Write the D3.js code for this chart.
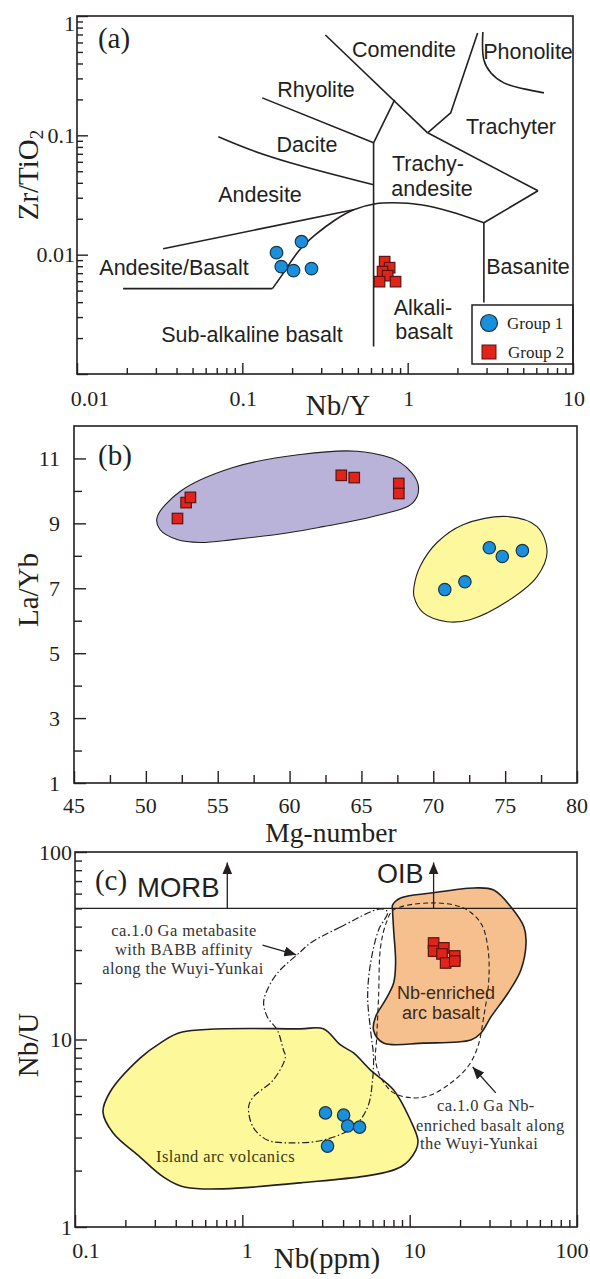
<!DOCTYPE html>
<html>
<head>
<meta charset="utf-8">
<script src="https://cdn.jsdelivr.net/npm/d3@7"></script>
<style>
  html, body { margin: 0; padding: 0; background: #fff; }
  svg { display: block; }
</style>
</head>
<body>
<svg id="chart" width="590" height="1279"></svg>
<script>
// ---------------- data ----------------
// (a) Nb/Y vs Zr/TiO2 discrimination diagram
const nbYTicks = [0.01, 0.1, 1, 10];
const nbYTickLabels = ["0.01", "0.1", "1", "10"];
const zrTiTicks = [1, 0.1, 0.01];
const zrTiTickLabels = ["1", "0.1", "0.01"];

const g1NbY  = [0.161, 0.172, 0.204, 0.228, 0.262];
const g1ZrTi = [0.0104, 0.00794, 0.00735, 0.01285, 0.00764];
const g2NbY  = [0.726, 0.778, 0.705, 0.757, 0.676, 0.845];
const g2ZrTi = [0.00874, 0.00778, 0.00721, 0.00667, 0.00594, 0.00594];

// field boundaries [Nb/Y, Zr/TiO2]
const lineSubAlkaline = [[0.0190, 0.00519], [0.152, 0.00519]];
const lineAndesiteTop = [[0.0332, 0.0112], [0.471, 0.0238]];
const lineBasanite    = [[2.89, 0.0185], [2.89, 0.00397]];
const lineTrachyLow   = [[2.89, 0.0185], [6.14, 0.0343]];
const lineTrachyUp    = [[6.14, 0.0343], [1.32, 0.105]];
const lineComendite   = [[0.318, 0.693], [1.32, 0.105]];
const lineTrachyter   = [[1.32, 0.105], [1.82, 0.154], [2.65, 0.721]];
const lineAlkali      = [[0.622, 0.0866], [0.622, 0.0017]];
const lineRhyTrachy   = [[0.622, 0.0866], [0.834, 0.198]];
const lineRhyDacite   = [[0.132, 0.206], [0.622, 0.0866]];
const curveAlkaline   = [[0.152, 0.00519], [0.1745, 0.00681], [0.195, 0.00857], [0.225, 0.01122],
                         [0.277, 0.0147], [0.366, 0.01963], [0.471, 0.0238], [0.640, 0.0267],
                         [0.822, 0.0272], [1.2, 0.0262], [1.82, 0.0229], [2.89, 0.0185]];
const curveDacite     = [[0.0716, 0.0971], [0.112, 0.0756], [0.195, 0.0589], [0.622, 0.0385]];
const curvePhonolite  = [[2.85, 0.735], [2.89, 0.428], [3.19, 0.333], [3.82, 0.275], [5.05, 0.245], [6.67, 0.227]];

// (b) Mg-number vs La/Yb
const mgTicks = [45, 50, 55, 60, 65, 70, 75, 80];
const laYbTicks = [1, 3, 5, 7, 9, 11];
const g1Mg   = [70.8, 72.2, 73.9, 74.8, 76.2];
const g1LaYb = [6.96, 7.20, 8.25, 7.98, 8.16];
const g2Mg   = [52.2, 52.8, 53.1, 63.6, 64.5, 67.6, 67.6];
const g2LaYb = [9.15, 9.64, 9.80, 10.48, 10.41, 10.23, 9.92];
const fieldGroup2 = [[50.78, 9.18], [52.38, 9.98], [56.06, 10.72], [60.73, 11.12], [64.69, 11.22],
                     [67.69, 10.88], [68.94, 10.20], [68.59, 9.64], [65.81, 9.21], [62.33, 8.90],
                     [60.03, 8.72], [56.06, 8.50], [53.77, 8.41], [52.17, 8.50], [50.98, 8.81]];
const fieldGroup1 = [[68.66, 7.05], [69.08, 7.67], [70.26, 8.41], [72.07, 8.96], [75.13, 9.21],
                     [77.22, 8.90], [77.92, 8.13], [77.22, 7.36], [75.13, 6.59], [72.56, 6.03],
                     [70.96, 5.97], [69.29, 6.25], [68.66, 6.74]];

// (c) Nb vs Nb/U
const nbTicks = [0.1, 1, 10, 100];
const nbTickLabels = ["0.1", "1", "10", "100"];
const nbUTicks = [100, 10, 1];
const nbUTickLabels = ["100", "10", "1"];
const g1Nb  = [3.14, 4.03, 4.26, 5.02, 3.23];
const g1NbU = [4.06, 3.95, 3.46, 3.41, 2.70];
const g2Nb  = [13.9, 13.9, 16.0, 15.6, 18.6, 16.4, 18.6];
const g2NbU = [32.7, 29.6, 30.8, 28.6, 27.9, 25.6, 26.2];
const morbOibNbU = 50;
const morbArrowNb = 0.813, oibArrowNb = 13.9, arrowTopNbU = 88;
const fieldNbArc = [[7.90, 52.1], [8.83, 56.9], [13.4, 60.4], [24.2, 64.3], [31.8, 62.7], [40.3, 50.9],
                    [48.2, 39.8], [49.6, 32.7], [46.2, 23.5], [38.7, 17.7], [30.6, 13.2], [26.6, 10.8],
                    [23.2, 9.93], [12.1, 9.57], [6.98, 9.57], [6.08, 11.2], [6.25, 13.2], [7.18, 16.3],
                    [8.02, 20.0], [8.24, 25.6], [8.02, 38.4], [7.90, 49.1]];
const fieldIslandArc = [[0.437, 10.96], [2.22, 11.4], [3.05, 11.4], [3.86, 9.35], [4.62, 8.48], [5.84, 6.87],
                        [8.02, 5.38], [10.1, 3.72], [11.2, 2.91], [10.9, 2.57], [8.83, 2.09], [2.22, 1.72],
                        [0.456, 1.63], [0.337, 1.85], [0.245, 2.36], [0.169, 3.17], [0.147, 4.10],
                        [0.162, 5.25], [0.245, 7.96], [0.323, 9.57]];
const fieldBABB = [[6.70, 49.7], [3.86, 39.8], [2.55, 32.7], [2.22, 29.3], [1.62, 22.6], [1.41, 18.4],
                   [1.34, 15.7], [1.41, 13.2], [1.62, 11.2], [1.76, 8.79], [1.81, 8.07], [1.53, 6.08],
                   [1.16, 4.93], [1.09, 4.36], [1.16, 3.41], [1.41, 2.91], [1.94, 2.81], [3.05, 2.91],
                   [4.62, 3.41], [5.61, 4.36], [6.00, 6.08], [6.08, 8.07], [5.84, 11.2], [5.61, 16.9],
                   [5.84, 25.6], [6.52, 38.4], [7.38, 47.9]];
const fieldNbBasalt = [[8.02, 49.1], [13.4, 53.5], [21.0, 50.2], [26.6, 41.8], [29.3, 31.1], [29.7, 20.7],
                       [27.7, 13.2], [25.5, 9.12], [22.2, 7.13], [17.6, 5.86], [13.4, 5.06], [10.6, 4.88],
                       [8.02, 5.19], [6.70, 6.31], [6.25, 7.78], [6.34, 9.93], [6.52, 16.9], [6.70, 31.1],
                       [7.28, 42.4]];
const arrowBABB   = [[1.32, 31.9], [2.10, 28.3]];
const arrowNbBas  = [[32.7, 5.19], [23.8, 7.13]];

// ---------------- drawing ----------------
const INK = "#231f20";
const SERIF = "'Liberation Serif','Times New Roman',serif";
const SANS = "'Liberation Sans',Arial,sans-serif";
const BLUE = "#1990dc", BLUE_EDGE = "#1d3346";
const RED = "#e2231a", RED_EDGE = "#5b1410";

const svg = d3.select("#chart");

const defs = svg.append("defs");
defs.append("marker")
  .attr("id", "head").attr("viewBox", "0 0 12 10")
  .attr("refX", 12).attr("refY", 5)
  .attr("markerWidth", 12).attr("markerHeight", 10)
  .attr("markerUnits", "userSpaceOnUse").attr("orient", "auto")
  .append("path").attr("d", "M0,0 L12,5 L0,10 Z").attr("fill", INK);

const isMajor = v => Math.abs(Math.log10(v) - Math.round(Math.log10(v))) < 1e-9;

function drawTicks(g, x, y, xMinor, xMajor, yMinor, yMajor, minLen, majLen) {
  const [x0] = x.range();
  const [y0] = y.range();
  const ax1 = g.append("g").attr("transform", `translate(0,${y0})`)
    .call(d3.axisBottom(x).tickValues(xMinor).tickSize(-minLen).tickFormat(""));
  const ax2 = g.append("g").attr("transform", `translate(0,${y0})`)
    .call(d3.axisBottom(x).tickValues(xMajor).tickSize(-majLen).tickFormat(""));
  const ay1 = g.append("g").attr("transform", `translate(${x0},0)`)
    .call(d3.axisLeft(y).tickValues(yMinor).tickSize(-minLen).tickFormat(""));
  const ay2 = g.append("g").attr("transform", `translate(${x0},0)`)
    .call(d3.axisLeft(y).tickValues(yMajor).tickSize(-majLen).tickFormat(""));
  [ax1, ax2, ay1, ay2].forEach(a => {
    a.select(".domain").remove();
    a.selectAll("line").attr("stroke", INK).attr("stroke-width", 1.4);
  });
}

function drawFrame(g, x, y) {
  const [x0, x1] = x.range();
  const [y0, y1] = y.range();
  g.append("rect").attr("x", x0).attr("y", y1)
    .attr("width", x1 - x0).attr("height", y0 - y1)
    .attr("fill", "none").attr("stroke", INK).attr("stroke-width", 1.6);
}

function text(g, str, px, py, opts = {}) {
  return g.append("text")
    .attr("x", px).attr("y", py)
    .attr("text-anchor", opts.anchor || "middle")
    .attr("dominant-baseline", opts.baseline || "central")
    .attr("font-family", opts.family || SANS)
    .attr("font-size", opts.size || 22)
    .attr("fill", opts.fill || INK)
    .attr("letter-spacing", opts.ls || 0)
    .text(str);
}

function circles(g, xs, ys, x, y, r) {
  g.selectAll(null).data(xs.map((v, i) => [v, ys[i]])).enter()
    .append("circle")
    .attr("cx", d => x(d[0])).attr("cy", d => y(d[1])).attr("r", r)
    .attr("fill", BLUE).attr("stroke", BLUE_EDGE).attr("stroke-width", 1.2);
}

function squares(g, xs, ys, x, y, s) {
  g.selectAll(null).data(xs.map((v, i) => [v, ys[i]])).enter()
    .append("rect")
    .attr("x", d => x(d[0]) - s / 2).attr("y", d => y(d[1]) - s / 2)
    .attr("width", s).attr("height", s)
    .attr("fill", RED).attr("stroke", RED_EDGE).attr("stroke-width", 1.2);
}

// ===== panel (a) =====
{
  const g = svg.append("g");
  const x = d3.scaleLog().domain([0.01, 10]).range([77, 573]);
  const y = d3.scaleLog().domain([0.001, 1]).range([374, 16]);

  const xt = x.ticks(), yt = y.ticks();
  drawTicks(g, x, y, xt.filter(v => !isMajor(v)), xt.filter(isMajor),
            yt.filter(v => !isMajor(v)), yt.filter(isMajor), 6, 11);

  const straight = d3.line().x(d => x(d[0])).y(d => y(d[1]));
  const smooth = d3.line().x(d => x(d[0])).y(d => y(d[1])).curve(d3.curveCatmullRom.alpha(0.5));
  const bg = g.append("g").attr("fill", "none").attr("stroke", INK).attr("stroke-width", 1.6)
    .attr("stroke-linejoin", "round");
  [lineSubAlkaline, lineAndesiteTop, lineBasanite, lineTrachyLow, lineTrachyUp, lineComendite,
   lineTrachyter, lineAlkali, lineRhyTrachy, lineRhyDacite]
    .forEach(l => bg.append("path").attr("d", straight(l)));
  [curveAlkaline, curveDacite, curvePhonolite]
    .forEach(l => bg.append("path").attr("d", smooth(l)));

  // field names
  const fields = [
    ["Comendite", 404, 50], ["Phonolite", 528, 52], ["Rhyolite", 316, 90], ["Trachyter", 511, 127],
    ["Dacite", 307, 145], ["Trachy-", 428, 164], ["andesite", 432, 189], ["Andesite", 260, 195],
    ["Andesite/Basalt", 174, 268], ["Basanite", 528, 267], ["Alkali-", 423, 308], ["basalt", 424, 332],
    ["Sub-alkaline basalt", 252, 335]
  ];
  fields.forEach(f => text(g, f[0], f[1], f[2], { size: 21.5 }));

  squares(g, g2NbY, g2ZrTi, x, y, 10.5);
  circles(g, g1NbY, g1ZrTi, x, y, 6.3);

  // legend
  const lg = g.append("g");
  lg.append("rect").attr("x", 472).attr("y", 305).attr("width", 101).attr("height", 59)
    .attr("fill", "#fff").attr("stroke", INK).attr("stroke-width", 1.5);
  lg.append("circle").attr("cx", 489).attr("cy", 323).attr("r", 8.5)
    .attr("fill", BLUE).attr("stroke", BLUE_EDGE).attr("stroke-width", 1.2);
  lg.append("rect").attr("x", 482).attr("y", 345).attr("width", 14).attr("height", 14)
    .attr("fill", RED).attr("stroke", RED_EDGE).attr("stroke-width", 1);
  text(lg, "Group 1", 507, 323, { anchor: "start", family: SERIF, size: 17 });
  text(lg, "Group 2", 508, 352, { anchor: "start", family: SERIF, size: 17 });

  drawFrame(g, x, y);

  // tick labels
  nbYTicks.forEach((v, i) => {
    const dx = i === 0 ? 13 : 1;
    text(g, nbYTickLabels[i], x(v) + dx, 398, { family: SERIF, size: 22 });
  });
  zrTiTicks.forEach((v, i) => {
    const dy = v === 1 ? 7 : 0;
    text(g, zrTiTickLabels[i], 75, y(v) + dy, { anchor: "end", family: SERIF, size: 22 });
  });

  text(g, "(a)", 114, 38, { family: SERIF, size: 29 });
  text(g, "Nb/Y", 338, 415, { family: SERIF, size: 29, baseline: "auto" });
  const t = g.append("text").attr("transform", "translate(38,175) rotate(-90)")
    .attr("text-anchor", "middle").attr("font-family", SERIF).attr("font-size", 29).attr("fill", INK);
  t.append("tspan").text("Zr/TiO");
  t.append("tspan").attr("font-size", 19).attr("dy", 5).text("2");
}

// ===== panel (b) =====
{
  const g = svg.append("g");
  const x = d3.scaleLinear().domain([45, 80]).range([74, 577]);
  const y = d3.scaleLinear().domain([1, 12]).range([783, 426]);

  const xMinor = d3.range(47.5, 80, 5);
  const yMinor = d3.range(2, 12, 2);
  drawTicks(g, x, y, xMinor, mgTicks, yMinor, laYbTicks, 8, 12);

  const closed = d3.line().x(d => x(d[0])).y(d => y(d[1])).curve(d3.curveCatmullRomClosed.alpha(0.5));
  g.append("path").attr("d", closed(fieldGroup2))
    .attr("fill", "#b9b2d9").attr("stroke", INK).attr("stroke-width", 1.1);
  g.append("path").attr("d", closed(fieldGroup1))
    .attr("fill", "#fdf89e").attr("stroke", INK).attr("stroke-width", 1.1);

  squares(g, g2Mg, g2LaYb, x, y, 10.5);
  circles(g, g1Mg, g1LaYb, x, y, 6.2);

  drawFrame(g, x, y);

  mgTicks.forEach(v => text(g, String(v), x(v), 805, { family: SERIF, size: 22 }));
  laYbTicks.forEach(v => text(g, String(v), 60, y(v), { anchor: "end", family: SERIF, size: 22 }));

  text(g, "(b)", 115, 455, { family: SERIF, size: 29 });
  text(g, "Mg-number", 331, 842, { family: SERIF, size: 27.5, baseline: "auto" });
  g.append("text").attr("transform", "translate(38,590) rotate(-90)")
    .attr("text-anchor", "middle").attr("font-family", SERIF).attr("font-size", 29).attr("fill", INK)
    .text("La/Yb");
}

// ===== panel (c) =====
{
  const g = svg.append("g");
  const x = d3.scaleLog().domain([0.1, 100]).range([75, 577]);
  const y = d3.scaleLog().domain([1, 100]).range([1227, 852]);

  const xt = x.ticks(), yt = y.ticks();
  drawTicks(g, x, y, xt.filter(v => !isMajor(v)), xt.filter(isMajor),
            yt.filter(v => !isMajor(v)), yt.filter(isMajor), 7, 12);

  const closed = d3.line().x(d => x(d[0])).y(d => y(d[1])).curve(d3.curveCatmullRomClosed.alpha(0.5));
  g.append("path").attr("d", closed(fieldIslandArc))
    .attr("fill", "#fdf89a").attr("stroke", INK).attr("stroke-width", 1.6);
  g.append("path").attr("d", closed(fieldNbArc))
    .attr("fill", "#f6c08e").attr("stroke", INK).attr("stroke-width", 1.6);
  g.append("path").attr("d", closed(fieldBABB))
    .attr("fill", "none").attr("stroke", INK).attr("stroke-width", 1.2)
    .attr("stroke-dasharray", "7,2.5,1.5,2.5");
  g.append("path").attr("d", closed(fieldNbBasalt))
    .attr("fill", "none").attr("stroke", INK).attr("stroke-width", 1.1)
    .attr("stroke-dasharray", "5,3");

  // MORB / OIB divide
  g.append("line").attr("x1", x.range()[0]).attr("x2", x.range()[1])
    .attr("y1", y(morbOibNbU)).attr("y2", y(morbOibNbU))
    .attr("stroke", INK).attr("stroke-width", 1.3);
  [morbArrowNb, oibArrowNb].forEach(v => {
    g.append("line").attr("x1", x(v)).attr("x2", x(v))
      .attr("y1", y(morbOibNbU)).attr("y2", y(arrowTopNbU))
      .attr("stroke", INK).attr("stroke-width", 1.3).attr("marker-end", "url(#head)");
  });
  [arrowBABB, arrowNbBas].forEach(a => {
    g.append("line").attr("x1", x(a[0][0])).attr("y1", y(a[0][1]))
      .attr("x2", x(a[1][0])).attr("y2", y(a[1][1]))
      .attr("stroke", INK).attr("stroke-width", 1.3).attr("marker-end", "url(#head)");
  });

  text(g, "MORB", 137, 897, { anchor: "start", size: 27.5, baseline: "auto" });
  text(g, "OIB", 377, 883, { anchor: "start", size: 27, baseline: "auto" });

  const ann = { family: SERIF, size: 16.5, fill: "#333", ls: 0.4 };
  text(g, "ca.1.0 Ga metabasite", 184, 930, ann);
  text(g, "with BABB affinity", 184, 949, ann);
  text(g, "along the Wuyi-Yunkai", 183, 968, ann);
  text(g, "ca.1.0 Ga Nb-", 437, 1105, { ...ann, anchor: "start" });
  text(g, "enriched basalt along", 416, 1125, { ...ann, anchor: "start" });
  text(g, "the Wuyi-Yunkai", 420, 1143, { ...ann, anchor: "start" });
  text(g, "Island arc volcanics", 156, 1156, { ...ann, anchor: "start", fill: "#3a3a1a" });
  text(g, "Nb-enriched", 446, 993, { size: 18, fill: "#3a2a1a" });
  text(g, "arc basalt", 441, 1013, { size: 18, fill: "#3a2a1a" });

  squares(g, g2Nb, g2NbU, x, y, 10.5);
  circles(g, g1Nb, g1NbU, x, y, 6.2);

  drawFrame(g, x, y);

  nbTicks.forEach((v, i) => {
    const dx = i === 0 ? 11 : (i === nbTicks.length - 1 ? -5 : 5);
    text(g, nbTickLabels[i], x(v) + dx, 1250, { family: SERIF, size: 22 });
  });
  nbUTicks.forEach((v, i) => {
    text(g, nbUTickLabels[i], 72, y(v), { anchor: "end", family: SERIF, size: 22 });
  });

  text(g, "(c)", 111, 880, { family: SERIF, size: 29 });
  text(g, "Nb(ppm)", 327, 1268, { family: SERIF, size: 29, baseline: "auto" });
  g.append("text").attr("transform", "translate(38,1045) rotate(-90)")
    .attr("text-anchor", "middle").attr("font-family", SERIF).attr("font-size", 29).attr("fill", INK)
    .text("Nb/U");
}
</script>
</body>
</html>
